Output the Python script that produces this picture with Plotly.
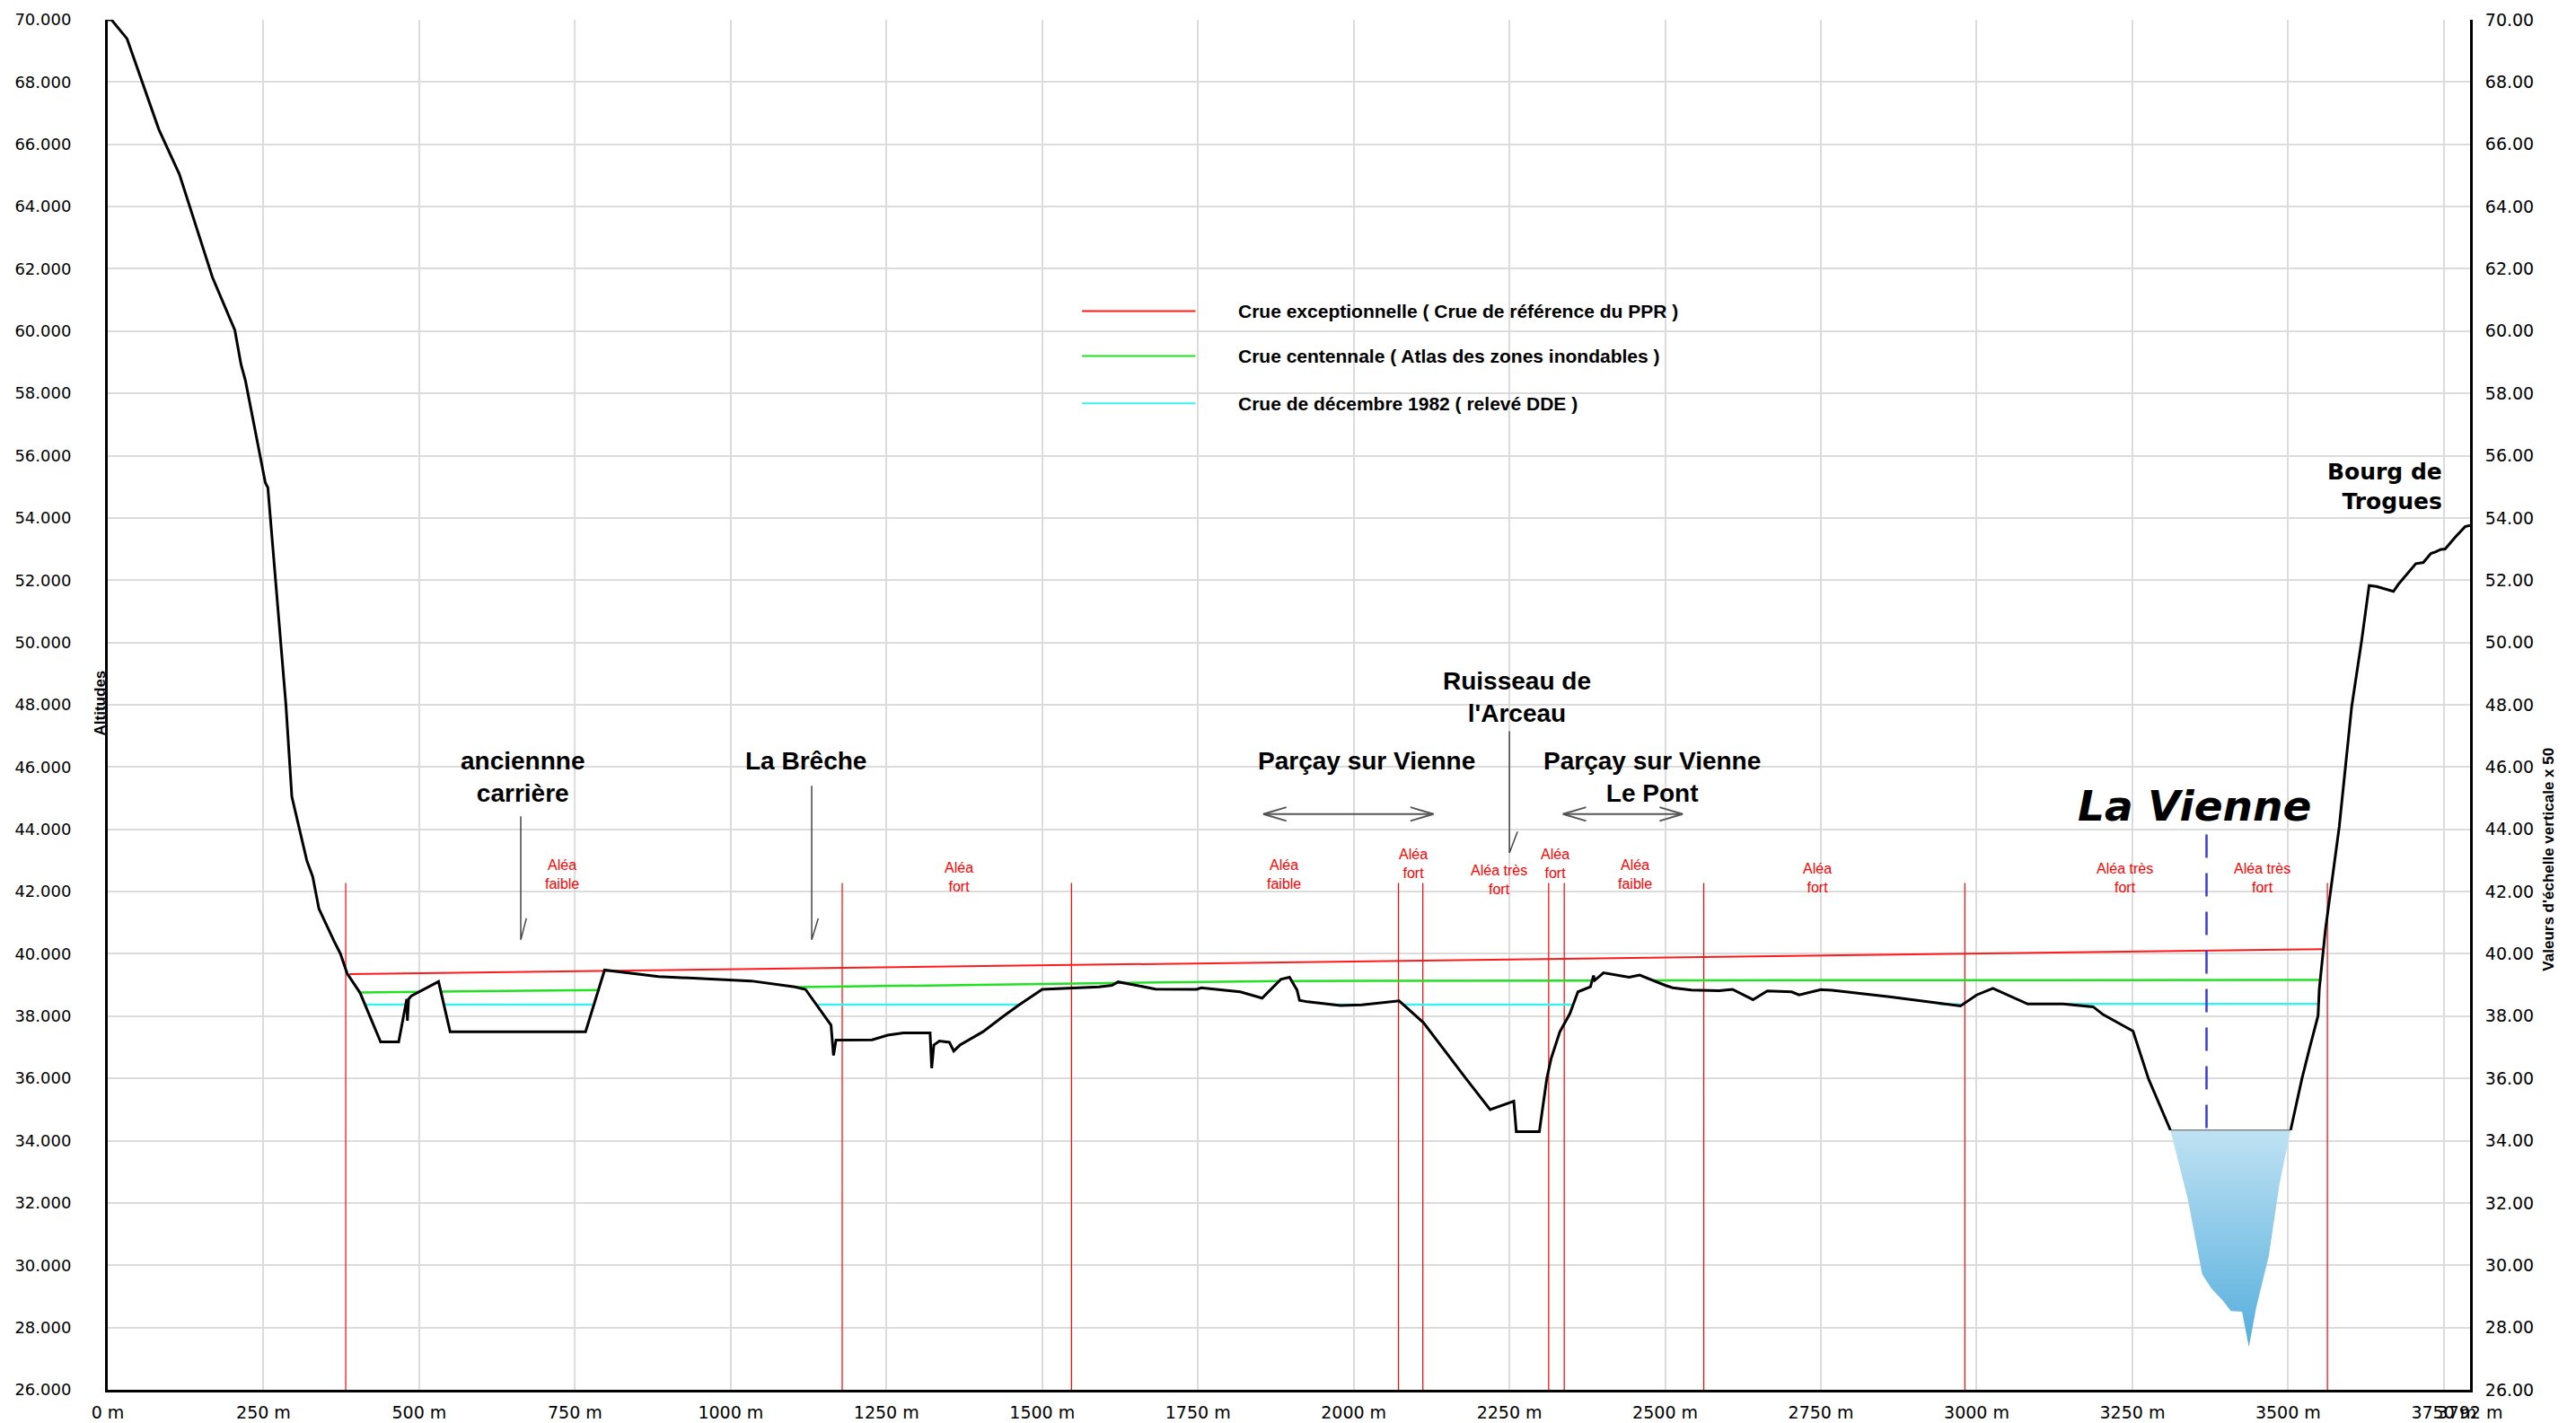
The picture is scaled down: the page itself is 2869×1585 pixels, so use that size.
import plotly.graph_objects as go

# ---------------- data ----------------
ground_dist = [0, 6, 31, 55, 82, 115, 132, 168, 204, 214, 221, 245, 250, 253, 257, 269, 286, 295.5,
               307.5, 319.5, 329, 339, 363, 373.6, 384.3, 405, 438, 467, 480, 481, 483, 487.6, 531,
               549.6, 767, 797.5, 884, 1033, 1103, 1120, 1161, 1165, 1169, 1227, 1252, 1277, 1320,
               1322.6, 1326, 1335, 1351, 1358, 1368, 1405, 1438, 1463, 1500, 1591, 1612, 1622, 1682,
               1748, 1755, 1818, 1853, 1883, 1897, 1909, 1913, 1926, 1979, 2013, 2073, 2112, 2180,
               2219, 2257, 2261, 2298, 2310, 2317, 2331, 2347, 2360, 2380, 2385, 2387, 2401, 2442,
               2459, 2500, 2512, 2542, 2587, 2608, 2641, 2664, 2703, 2715, 2750, 2768, 2860, 2974,
               3000, 3026, 3035, 3082, 3139, 3187, 3203, 3251, 3276, 3289, 3311, None,
               3504, 3522, 3534, 3548, 3550, 3560, 3582, 3602, 3618, 3630, 3642, 3669, 3677, 3705,
               3717, 3729, 3737, 3745, 3752, 3768, 3784, 3792]
ground_alt = [70.0, 70.0, 69.39, 68.03, 66.48, 65.04, 63.99, 61.73, 60.03, 58.92, 58.41, 55.97, 55.52,
              55.13, 54.98, 51.98, 48.0, 45.05, 44.02, 43.0, 42.48, 41.45, 40.42, 40.0, 39.37, 38.75,
              37.17, 37.17, 38.55, 37.85, 38.55, 38.65, 39.11, 37.5, 37.5, 39.48, 39.27, 39.13, 38.94,
              38.86, 37.71, 36.74, 37.23, 37.24, 37.39, 37.46, 37.46, 36.33, 37.07, 37.2, 37.16, 36.88,
              37.07, 37.5, 38.0, 38.36, 38.86, 38.94, 38.99, 39.10, 38.87, 38.86, 38.91, 38.78, 38.58,
              39.18, 39.25, 38.84, 38.51, 38.46, 38.34, 38.36, 38.49, 37.79, 36.0, 35.0, 35.27, 34.29,
              34.29, 36.0, 36.64, 37.5, 38.08, 38.78, 38.94, 39.30, 39.15, 39.39, 39.25, 39.32, 38.99,
              38.91, 38.84, 38.82, 38.86, 38.53, 38.81, 38.78, 38.68, 38.85, 38.83, 38.62, 38.33,
              38.68, 38.89, 38.81, 38.39, 38.39, 38.30, 38.05, 37.52, 35.98, 35.36, 34.34, None,
              34.34, 35.98, 36.94, 38.01, 38.87, 40.8, 44.08, 47.94, 50.06, 51.83, 51.8, 51.64, 51.87,
              52.53, 52.57, 52.86, 52.91, 52.99, 53.0, 53.38, 53.72, 53.76]

river_dist = [3311, 3339, 3362, 3377, 3395, 3408, 3426, 3437, 3449, 3469, 3486, 3504]
river_alt = [34.34, 32.12, 29.71, 29.25, 28.87, 28.53, 28.51, 27.38, 28.67, 30.3, 32.6, 34.34]
water_level = 34.34

red_flood_dist = [388, 3555]
red_flood_alt = [39.35, 40.15]

green_flood_dist = [405, 500, None, 535, 790, None, 1103, 1881, None, 1901, 2383, None, 2481, 3554]
green_flood_alt = [38.76, 38.78, None, 38.79, 38.84, None, 38.93, 39.13, None, 39.13, 39.14, None, 39.15, 39.16]

cyan_flood_dist = [413, 483, None, 541, 781, None, 1140, 1463, None, 1963, 2008, None, 2079, 2350,
                   None, 2940, 2974, None, 3139, 3548]
cyan_flood_alt = [38.37, 38.37, None, 38.37, 38.37, None, 38.37, 38.37, None, 38.37, 38.37, None,
                  38.37, 38.37, None, 38.38, 38.38, None, 38.39, 38.39]

zone_limits = [382, 1179, 1547, 2072, 2111, 2313, 2338, 2562, 2981, 3563]
zone_top = 42.28

alea_x = [729, 1366, 1888, 2096, 2233, 2323, 2451, 2744, 3238, 3458]
alea_y = [42.54, 42.45, 42.55, 42.90, 42.38, 42.90, 42.55, 42.44, 42.43, 42.43]
alea_text = ["Aléa<br>faible", "Aléa<br>fort", "Aléa<br>faible", "Aléa<br>fort", "Aléa très<br>fort",
             "Aléa<br>fort", "Aléa<br>faible", "Aléa<br>fort", "Aléa très<br>fort", "Aléa très<br>fort"]

place_x = [666, 1121, 2021, 2262, 2479]
place_y = [45.69, 46.19, 46.19, 48.25, 45.69]
place_text = ["anciennne<br>carrière", "La Brêche", "Parçay sur Vienne", "Ruisseau de<br>l'Arceau",
              "Parçay sur Vienne<br>Le Pont"]

pointer_x = [663, 1130, 2250]
pointer_top = [44.42, 45.40, 47.15]
pointer_bottom = [40.45, 40.45, 43.24]
pointer_tip_x = [672, 1140.5, 2263]
pointer_tip_y = [41.14, 41.14, 43.93]

arrow_start = [1855, 2336]
arrow_end = [2128, 2528]
arrow_alt = 44.49

axis_dash_x = 3369
axis_dash_top = 43.83

legend_names = ["Crue exceptionnelle ( Crue de référence du PPR )",
                "Crue centennale ( Atlas des zones inondables )",
                "Crue de décembre 1982 ( relevé DDE )"]
legend_alt = [60.64, 59.20, 57.68]
legend_x0, legend_x1, legend_text_x = 1564, 1746, 1811

x_ticks = list(range(0, 3751, 250)) + [3792]
x_labels = [f"{v} m" for v in x_ticks]
y_ticks = list(range(26, 71, 2))

RED = "#ff1a1a"
GREEN = "#22e022"
CYAN = "#3cf0f0"

fig = go.Figure()

# water
fig.add_trace(go.Scatter(x=river_dist, y=river_alt, mode="lines", fill="toself",
                         line=dict(width=0), fillcolor="#8ccbea",
                         fillgradient=dict(type="vertical",
                                           colorscale=[[0, "#55aedd"], [1, "#bfe2f3"]]),
                         hoverinfo="skip"))
fig.add_trace(go.Scatter(x=[river_dist[0], river_dist[-1]], y=[water_level, water_level],
                         mode="lines", line=dict(color="#555555", width=1), hoverinfo="skip"))

# zone limits
zx, zy = [], []
for v in zone_limits:
    zx += [v, v, None]
    zy += [26, zone_top, None]
fig.add_trace(go.Scatter(x=zx, y=zy, mode="lines", line=dict(color="#ff0000", width=1.2)))

# flood lines
fig.add_trace(go.Scatter(x=cyan_flood_dist, y=cyan_flood_alt, mode="lines",
                         line=dict(color=CYAN, width=2.5)))
fig.add_trace(go.Scatter(x=green_flood_dist, y=green_flood_alt, mode="lines",
                         line=dict(color=GREEN, width=2.5)))
fig.add_trace(go.Scatter(x=red_flood_dist, y=red_flood_alt, mode="lines",
                         line=dict(color=RED, width=2)))

# river axis dashed
fig.add_trace(go.Scatter(x=[axis_dash_x, axis_dash_x], y=[axis_dash_top, water_level], mode="lines",
                         line=dict(color="#3a3ad8", width=2.5, dash="26px,17px")))

# ground profile
fig.add_trace(go.Scatter(x=ground_dist, y=ground_alt, mode="lines",
                         line=dict(color="#000000", width=3), connectgaps=False))

# pointers
px_, py_ = [], []
for x, t, b, tx, ty in zip(pointer_x, pointer_top, pointer_bottom, pointer_tip_x, pointer_tip_y):
    px_ += [x, x, tx, None]
    py_ += [t, b, ty, None]
fig.add_trace(go.Scatter(x=px_, y=py_, mode="lines", line=dict(color="#444444", width=1.5)))

# double arrows
ax_, ay_ = [], []
dx, dy = 37, 0.22
for a, b in zip(arrow_start, arrow_end):
    ax_ += [a + dx, a, a + dx, None, a, b, None, b - dx, b, b - dx, None]
    ay_ += [arrow_alt + dy, arrow_alt, arrow_alt - dy, None, arrow_alt, arrow_alt, None,
            arrow_alt + dy, arrow_alt, arrow_alt - dy, None]
fig.add_trace(go.Scatter(x=ax_, y=ay_, mode="lines", line=dict(color="#555555", width=2)))

# legend lines
for c, yv in zip([RED, GREEN, CYAN], legend_alt):
    fig.add_trace(go.Scatter(x=[legend_x0, legend_x1], y=[yv, yv], mode="lines",
                             line=dict(color=c, width=2)))

# dummy for right axis
fig.add_trace(go.Scatter(x=[0], y=[26], yaxis="y2", mode="markers", marker=dict(opacity=0),
                         hoverinfo="skip"))

ann = []
for x, y, t in zip(alea_x, alea_y, alea_text):
    ann.append(dict(x=x, y=y, text=t, showarrow=False, xref="x", yref="y",
                    font=dict(family="Liberation Sans, Arial", size=16, color="#ff0000")))
for x, y, t in zip(place_x, place_y, place_text):
    ann.append(dict(x=x, y=y, text=f"<b>{t}</b>", showarrow=False, xref="x", yref="y",
                    font=dict(family="Liberation Sans, Arial", size=28, color="#000000")))
for t, yv in zip(legend_names, legend_alt):
    ann.append(dict(x=legend_text_x, y=yv, text=f"<b>{t}</b>", showarrow=False, xref="x", yref="y",
                    xanchor="left", font=dict(family="Liberation Sans, Arial", size=21, color="#000")))
ann.append(dict(x=3349, y=44.75, text="<b><i>La Vienne</i></b>", showarrow=False, xref="x", yref="y",
                font=dict(family="DejaVu Sans", size=47, color="#000")))
ann.append(dict(x=3750, y=55.0, text="<b>Bourg de<br>Trogues</b>", showarrow=False, xref="x", yref="y",
                xanchor="right", align="right",
                font=dict(family="DejaVu Sans", size=25, color="#000")))
ann.append(dict(x=-0.0076, y=48.06, text="<b>Altitudes</b>", showarrow=False, xref="paper", yref="y",
                textangle=-90, font=dict(family="Liberation Sans, Arial", size=17, color="#000")))
ann.append(dict(x=1.0373, y=43.04, text="<b>Valeurs d'échelle verticale x 50</b>", showarrow=False,
                xref="paper", yref="y", textangle=-90,
                font=dict(family="Liberation Sans, Arial", size=17, color="#000")))

fig.update_layout(
    width=2869, height=1585,
    margin=dict(l=120, r=118, t=22, b=37, autoexpand=False),
    paper_bgcolor="white", plot_bgcolor="white",
    showlegend=False,
    annotations=ann,
    xaxis=dict(range=[0, 3792], tickmode="array", tickvals=x_ticks, ticktext=x_labels,
               tickangle=0, automargin=False,
               showgrid=False, zeroline=False, showline=True, linecolor="black", linewidth=3,
               ticks="", ticklabelstandoff=6,
               tickfont=dict(family="DejaVu Sans", size=19, color="#000"),
               minor=dict(tickmode="array", tickvals=list(range(250, 3751, 250)), showgrid=True,
                          gridcolor="#dcdcdc", gridwidth=2, ticks="")),
    yaxis=dict(range=[26, 70], tickmode="array", tickvals=y_ticks, tickformat=".3f",
               automargin=False,
               showgrid=False, zeroline=False, showline=True, linecolor="black", linewidth=3,
               ticks="", ticklabelstandoff=34,
               tickfont=dict(family="DejaVu Sans", size=18, color="#000"),
               minor=dict(tickmode="array", tickvals=list(range(28, 69, 2)), showgrid=True,
                          gridcolor="#dcdcdc", gridwidth=2, ticks="")),
    yaxis2=dict(range=[26, 70], overlaying="y", side="right", tickmode="array", tickvals=y_ticks,
                tickformat=".2f", showgrid=False, zeroline=False, showline=True, linecolor="black",
                automargin=False,
                linewidth=3, ticks="", ticklabelstandoff=10,
                tickfont=dict(family="DejaVu Sans", size=19, color="#000")),
)

fig.write_html("out.html", config={"displayModeBar": False},
               post_script="document.body.style.margin='0';document.body.style.overflow='hidden';")
